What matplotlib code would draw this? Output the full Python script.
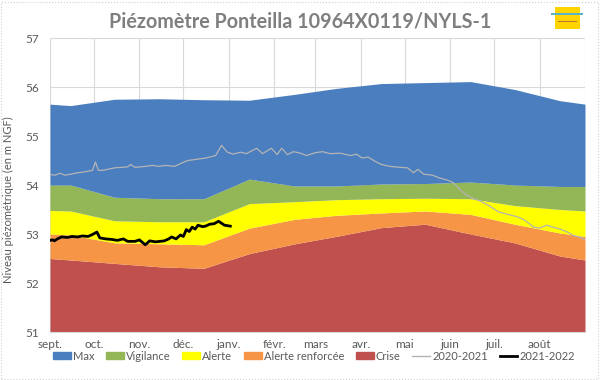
import matplotlib
matplotlib.use("Agg")
import matplotlib.pyplot as plt
from matplotlib.patches import Patch, Rectangle
from matplotlib.lines import Line2D
import numpy as np

plt.rcParams['font.family'] = ['Lato', 'DejaVu Sans']

# Month labels (hydrological year starting 1 Sept)
months = ["sept.", "oct.", "nov.", "déc.", "janv.", "févr.", "mars", "avr.", "mai", "juin", "juil.", "août"]
month_start_days = [0, 30, 61, 91, 122, 153, 181, 212, 242, 273, 303, 334]
year_len = 365

# Threshold curves: days since 1 Sept (1st, mid-months, 31 Aug) and levels (m NGF)
thr_days = [0, 14, 44, 75, 105, 136, 167, 195, 226, 256, 287, 317, 348, 365]
crise = [52.50, 52.47, 52.40, 52.33, 52.30, 52.60, 52.80, 52.95, 53.13, 53.20, 53.00, 52.82, 52.55, 52.47]
alerte_renf = [53.00, 52.98, 52.82, 52.80, 52.78, 53.12, 53.30, 53.38, 53.43, 53.47, 53.40, 53.20, 53.02, 52.95]
alerte = [53.48, 53.47, 53.27, 53.25, 53.25, 53.62, 53.66, 53.70, 53.72, 53.73, 53.72, 53.58, 53.50, 53.47]
vigilance = [54.00, 54.00, 53.75, 53.72, 53.72, 54.12, 53.98, 53.98, 54.02, 54.03, 54.06, 54.00, 53.97, 53.97]
maxi = [55.65, 55.62, 55.75, 55.76, 55.74, 55.73, 55.85, 55.97, 56.07, 56.09, 56.11, 55.95, 55.72, 55.65]

# Series 2020-2021
s2021_days = [0, 3, 7, 10, 14, 19, 24, 29, 31, 33, 36, 41, 44, 53, 55, 58, 65, 70, 74, 79,
              85, 90, 94, 99, 106, 113, 117, 121, 125, 130, 134, 141, 145, 151, 155, 158, 162,
              166, 171, 175, 181, 186, 191, 198, 205, 209, 213, 217, 222, 226, 232, 239, 244,
              248, 251, 255, 261, 266, 271, 275, 280, 284, 289, 293, 300, 306, 310, 315, 319,
              324, 330, 334, 339, 343, 348, 353, 357, 362, 365]
s2021_vals = [54.22, 54.20, 54.24, 54.20, 54.22, 54.25, 54.27, 54.30, 54.47, 54.30, 54.30, 54.33,
              54.35, 54.37, 54.42, 54.36, 54.38, 54.40, 54.38, 54.40, 54.38, 54.45, 54.50, 54.52,
              54.55, 54.60, 54.81, 54.67, 54.63, 54.67, 54.64, 54.75, 54.64, 54.75, 54.62, 54.75,
              54.62, 54.68, 54.65, 54.60, 54.66, 54.68, 54.64, 54.65, 54.60, 54.63, 54.55, 54.57,
              54.48, 54.42, 54.38, 54.36, 54.35, 54.25, 54.32, 54.22, 54.20, 54.14, 54.10, 54.05,
              53.90, 53.80, 53.72, 53.68, 53.57, 53.45, 53.42, 53.38, 53.35, 53.28, 53.14, 53.12,
              53.18, 53.14, 53.10, 53.04, 52.97, 52.93, 52.88]

# Series 2021-2022
s2122_days = [0, 2, 3, 5, 8, 12, 15, 19, 22, 26, 29, 32, 34, 38, 42, 46, 50, 53, 58, 61, 65,
              68, 72, 75, 78, 81, 83, 86, 89, 91, 93, 95, 97, 99, 101, 104, 106, 109, 112, 115,
              117, 119, 123]
s2122_vals = [52.87, 52.88, 52.86, 52.90, 52.94, 52.93, 52.95, 52.94, 52.96, 52.95, 52.99, 53.04,
              52.92, 52.90, 52.89, 52.87, 52.90, 52.85, 52.85, 52.88, 52.78, 52.86, 52.84, 52.85,
              52.86, 52.90, 52.94, 52.90, 52.98, 52.95, 53.09, 53.05, 53.14, 53.10, 53.18, 53.15,
              53.16, 53.20, 53.21, 53.26, 53.22, 53.18, 53.16]

yticks = [51, 52, 53, 54, 55, 56, 57]

c_max = "#4a7ebf"
c_vig = "#93b656"
c_al = "#ffff00"
c_ar = "#f69545"
c_cr = "#c0504d"
txt = "#595959"

fig = plt.figure(figsize=(6, 3.8), dpi=100)
fig.patches.append(Rectangle((0.002, 0.003), 0.995, 0.993, transform=fig.transFigure,
                             fill=False, edgecolor="#d0d0d0", linewidth=0.8, linestyle=":"))
ax = fig.add_axes([50/600, 1-332/380, 535/600, 294/380])

d = np.array(thr_days)
base = np.full(len(d), 51.0)
ax.fill_between(d, base, crise, color=c_cr, linewidth=0, zorder=2)
ax.fill_between(d, crise, alerte_renf, color=c_ar, linewidth=0, zorder=2)
ax.fill_between(d, alerte_renf, alerte, color=c_al, linewidth=0, zorder=2)
ax.fill_between(d, alerte, vigilance, color=c_vig, linewidth=0, zorder=2)
ax.fill_between(d, vigilance, maxi, color=c_max, linewidth=0, zorder=2)

ax.plot(s2021_days, s2021_vals, color="#b4b4b4", linewidth=0.9, zorder=3)
ax.plot(s2122_days, s2122_vals, color="black", linewidth=2.0, zorder=4)

ax.set_xlim(0, year_len)
ax.set_ylim(51, 57)
ax.set_xticks(month_start_days + [year_len])
ax.set_xticklabels(months + [""])
ax.set_yticks(yticks)
ax.set_yticklabels([str(v) for v in yticks])
ax.grid(True, color="#d9d9d9", linewidth=0.8, zorder=0)
ax.set_axisbelow(True)
for s in ax.spines.values():
    s.set_visible(False)
ax.spines['bottom'].set_visible(True)
ax.spines['bottom'].set_color("#d9d9d9")
ax.tick_params(axis='both', length=0, labelsize=8.5, colors=txt, pad=8)
ax.tick_params(axis='x', pad=5)
ax.set_ylabel("Niveau piézométrique (en m NGF)", fontsize=8, color=txt)
ax.yaxis.set_label_coords(-36/535, 0.45)

fig.text(0.5, 1-21/380, "Piézomètre Ponteilla 10964X0119/NYLS-1", ha="center", va="center",
         fontsize=14.2, fontweight="bold", color="#7f7f7f")

# small logo placeholder
fig.patches.append(Rectangle((555/600, 1-29/380), 25/600, 22/380, transform=fig.transFigure,
                             facecolor="#ffd400", edgecolor="none"))
fig.patches.append(Rectangle((551/600, 1-15/380), 32/600, 2.5/380, transform=fig.transFigure,
                             facecolor="#5ab4c8", edgecolor="none"))
fig.patches.append(Rectangle((558/600, 1-22/380), 19/600, 1.5/380, transform=fig.transFigure,
                             facecolor="#c07030", edgecolor="none"))

handles = [Patch(color=c_max), Patch(color=c_vig), Patch(color=c_al), Patch(color=c_ar),
           Patch(color=c_cr), Line2D([], [], color="#b4b4b4", lw=1.0), Line2D([], [], color="black", lw=2.0)]
labels = ["Max", "Vigilance", "Alerte", "Alerte renforcée", "Crise", "2020-2021", "2021-2022"]
leg = fig.legend(handles, labels, loc="center", bbox_to_anchor=(314/600, 1-356/380), ncol=7,
                 frameon=False, fontsize=8, handlelength=1.6, handleheight=0.55,
                 handletextpad=0.2, columnspacing=1.05, labelcolor=txt, borderpad=0)

fig.savefig("out.png", dpi=100)
